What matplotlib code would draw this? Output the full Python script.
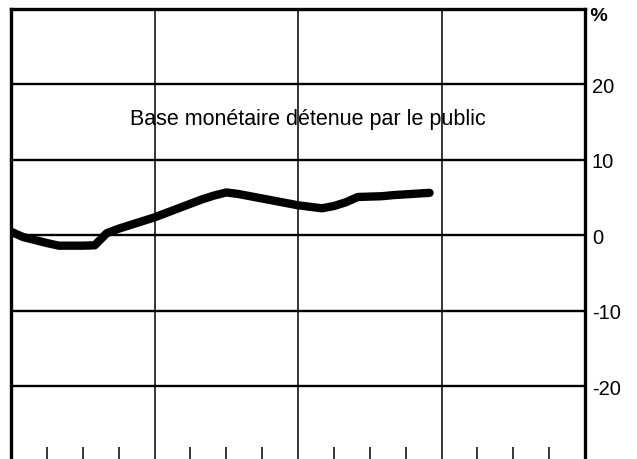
import matplotlib
matplotlib.use("Agg")
import matplotlib.pyplot as plt
import numpy as np

# Base monétaire détenue par le public, variation en % (valeurs mensuelles)
mois = np.arange(36)
valeurs = [
    0.5, -0.2, -0.6, -1.0, -1.35, -1.35, -1.35, -1.3, 0.3, 0.9, 1.4, 1.9,
    2.4, 3.0, 3.6, 4.2, 4.8, 5.3, 5.7, 5.5, 5.2, 4.9, 4.6, 4.3,
    4.0, 3.8, 3.6, 3.9, 4.4, 5.1, 5.15, 5.2, 5.35, 5.45, 5.55, 5.65,
]
y_ticks = [-20, -10, 0, 10, 20]
libelle = "Base monétaire détenue par le public"

plt.rcParams["font.family"] = ["Liberation Sans", "DejaVu Sans"]

fig = plt.figure(figsize=(6.37, 4.60), dpi=100)
ax = fig.add_axes([0.0173, -0.0065, 0.9011, 0.9848])

ax.set_xlim(0, 4)
ax.set_ylim(-30, 30)

# quadrillage
for y in y_ticks:
    ax.axhline(y, color="black", lw=1.7, zorder=1)
for x in [1, 2, 3]:
    ax.axvline(x, color="black", lw=1.1, zorder=1)

ax.plot(mois / 12, valeurs, color="black", lw=6,
        solid_capstyle="round", solid_joinstyle="round", zorder=3)

ax.text(2.07, 15.5, libelle, ha="center", va="center", fontsize=15.5)

# axes
for s in ["left", "top", "right"]:
    ax.spines[s].set_linewidth(2.4)
ax.spines["bottom"].set_visible(False)

ax.yaxis.tick_right()
ax.set_yticks(y_ticks)
ax.set_yticklabels([str(v) for v in y_ticks])
ax.tick_params(axis="y", length=0, pad=5, labelsize=14.5)

trimestres = [q / 4 for q in range(1, 16) if q % 4 != 0]
ax.set_xticks(trimestres)
ax.set_xticklabels([])
ax.tick_params(axis="x", direction="in", length=11, width=1.1)

ax.text(1.0, 0.985, " %", transform=ax.transAxes, ha="left", va="center",
        fontsize=14, fontweight="bold")

fig.savefig("out.png", dpi=100)
plt.close(fig)
